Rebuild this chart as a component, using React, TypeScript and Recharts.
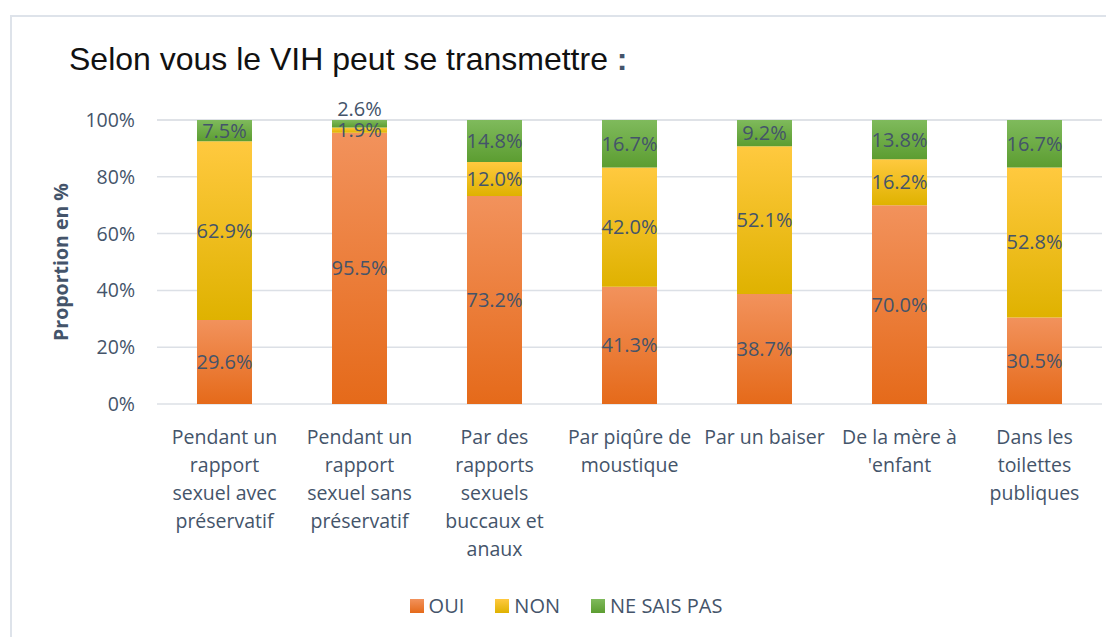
import {
  BarChart, Bar, XAxis, YAxis, CartesianGrid, Legend, LabelList,
} from "recharts";

const categories = [
  "Pendant un\nrapport\nsexuel avec\npréservatif",
  "Pendant un\nrapport\nsexuel sans\npréservatif",
  "Par des\nrapports\nsexuels\nbuccaux et\nanaux",
  "Par piqûre de\nmoustique",
  "Par un baiser",
  "De la mère à\n'enfant",
  "Dans les\ntoilettes\npubliques",
];
const oui = [29.6, 95.5, 73.2, 41.3, 38.7, 70.0, 30.5];
const non = [62.9, 1.9, 12.0, 42.0, 52.1, 16.2, 52.8];
const nsp = [7.5, 2.6, 14.8, 16.7, 9.2, 13.8, 16.7];
const yTicks = [0, 20, 40, 60, 80, 100];

const data = categories.map((name, i) => ({ name, oui: oui[i], non: non[i], nsp: nsp[i] }));

const textColor = "#44546A";
const font = "'Open Sans', Lato, sans-serif";

const series = [
  { key: "oui", name: "OUI", grad: "gOui", top: "#F2925C", bottom: "#E56A1A" },
  { key: "non", name: "NON", grad: "gNon", top: "#FFC93F", bottom: "#DFB200" },
  { key: "nsp", name: "NE SAIS PAS", grad: "gNsp", top: "#7FBA5C", bottom: "#5C9D31" },
];

const XTick = ({ x, y, payload }: any) => {
  const lines = String(payload.value).split("\n");
  return (
    <text x={x} y={y} textAnchor="middle" fill={textColor} fontSize={19.5} fontFamily={font}>
      {lines.map((l, i) => (
        <tspan key={i} x={x} dy={i === 0 ? 32 : 28}>{l}</tspan>
      ))}
    </text>
  );
};

const fmt = (v: number) => `${v.toFixed(1)}%`;

const SegLabel = (props: any) => {
  const { x, y, width, height, value, above } = props;
  const cy = above && height < 12 ? y - 11 : y + height / 2;
  return (
    <text x={x + width / 2} y={cy} dy={7} textAnchor="middle" fill={textColor} fontSize={20} fontFamily={font}>
      {fmt(value)}
    </text>
  );
};

const LegendContent = () => (
  <div style={{ display: "flex", justifyContent: "center", gap: 31, fontFamily: font, fontSize: 20, color: textColor, paddingLeft: 22, paddingTop: 5 }}>
    {series.map((s) => (
      <div key={s.key} style={{ display: "flex", alignItems: "center", gap: 5 }}>
        <span style={{ width: 14, height: 14, display: "inline-block", background: `linear-gradient(${s.top}, ${s.bottom})` }} />
        <span>{s.name}</span>
      </div>
    ))}
  </div>
);

export default function App() {
  return (
    <div style={{ position: "relative", width: 1106, height: 629, background: "#fff" }}>
      <div style={{ position: "absolute", left: 2, top: 7, width: 1110, height: 640, borderLeft: "2px solid #DEE3EA", borderTop: "2px solid #DEE3EA" }} />
      <div style={{ position: "absolute", left: 61, top: 33, fontFamily: "'Liberation Sans', Arial, sans-serif", fontSize: 32, color: "#111", whiteSpace: "nowrap" }}>
        Selon vous le VIH peut se transmettre <span style={{ color: textColor, fontWeight: "bold" }}>:</span>
      </div>
      <div style={{ position: "absolute", left: 0, top: 0 }}>
        <BarChart width={1106} height={629} data={data} barSize={55}
          margin={{ top: 112, right: 12, bottom: 10, left: 0 }}>
          <defs>
            {series.map((s) => (
              <linearGradient key={s.grad} id={s.grad} x1="0" y1="0" x2="0" y2="1">
                <stop offset="0%" stopColor={s.top} />
                <stop offset="100%" stopColor={s.bottom} />
              </linearGradient>
            ))}
          </defs>
          <CartesianGrid vertical={false} stroke="#DCE0E6" strokeWidth={1.5} />
          <XAxis dataKey="name" height={183} tick={<XTick />} tickLine={false} axisLine={false} interval={0} />
          <YAxis width={149} domain={[0, 100]} ticks={yTicks} tickFormatter={(v) => `${v}%`}
            tickLine={false} axisLine={false} tickMargin={16}
            tick={{ fill: textColor, fontSize: 19.5, fontFamily: font }}
            label={{ value: "Proportion en %", angle: -90, position: "center", dx: -21, fill: textColor, fontSize: 19.5, fontWeight: "bold", fontFamily: font }} />
          <Legend verticalAlign="bottom" height={40} content={<LegendContent />} />
          {series.map((s) => (
            <Bar key={s.key} dataKey={s.key} name={s.name} stackId="a" fill={`url(#${s.grad})`} isAnimationActive={false}>
              <LabelList dataKey={s.key} content={<SegLabel above={s.key === "nsp"} />} />
            </Bar>
          ))}
        </BarChart>
      </div>
    </div>
  );
}
